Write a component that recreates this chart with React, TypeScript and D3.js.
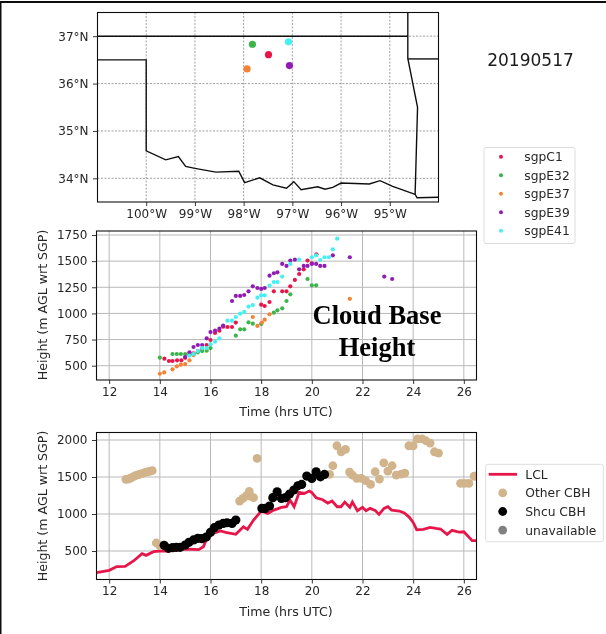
import React, { useRef, useEffect } from 'react';
import * as d3 from 'd3';

const WIDTH = 606;
const HEIGHT = 634;

const RED = '#e6194b';
const GREEN = '#3cb44b';
const ORANGE = '#f58231';
const PURPLE = '#911eb4';
const CYAN = '#46f0f0';
const TAN = '#d2b48c';

const siteNames = ['sgpC1', 'sgpE32', 'sgpE37', 'sgpE39', 'sgpE41'];
const siteColors = [RED, GREEN, ORANGE, PURPLE, CYAN];
const siteLon = [-97.49, -97.82, -97.93, -97.06, -97.08];
const siteLat = [36.61, 36.83, 36.31, 36.38, 36.88];

// state borders, lon/lat
const northLon = [-101, -94.63];
const northLat = [37, 37];
const eastLon = [-94.63, -94.63, -94.43, -94.48, -94.44, -94];
const eastLat = [37.5, 36.53, 35.5, 33.66, 33.59, 33.6];
const kansasLon = [-94.63, -94];
const kansasLat = [36.52, 36.52];
const southLon = [-101, -100, -100, -99.6, -99.34, -99.19, -99, -98.57, -98.1, -97.98, -97.67, -97.4, -97.12, -96.97, -96.82, -96.48, -96.33, -96.17, -96, -95.42, -95.2, -94.94, -94.48];
const southLat = [36.5, 36.5, 34.58, 34.39, 34.46, 34.25, 34.21, 34.13, 34.15, 33.91, 34.01, 33.86, 33.79, 33.93, 33.76, 33.82, 33.77, 33.81, 33.9, 33.88, 33.95, 33.83, 33.66];

const mapXTicks = [-100, -99, -98, -97, -96, -95];
const mapYTicks = [34, 35, 36, 37];

// cloud base height per site
const c1Time = [14.18, 14.36, 14.5, 14.68, 14.85, 15.0, 15.17, 15.33, 15.5, 15.67, 15.85, 16, 16.18, 16.35, 16.5, 16.67, 16.85, 17, 18, 18.14, 18.33, 18.5, 18.83, 19, 19.15, 19.33, 19.5, 19.68, 19.83, 20, 20.18];
const c1Height = [567, 545, 545, 551, 551, 575, 608, 618, 640, 660, 698, 746, 813, 835, 873, 870, 870, 912, 1084, 1071, 1109, 1211, 1211, 1211, 1259, 1320, 1377, 1422, 1505, 1480, 1565];
const e32Time = [14, 14.5, 14.67, 14.83, 15, 15.17, 15.33, 15.5, 15.67, 15.85, 16, 17, 17.17, 17.33, 17.5, 17.67, 18, 18.5, 18.64, 18.83, 19, 19.15, 19.83, 20, 20.17];
const e32Height = [577, 612, 612, 612, 612, 605, 608, 628, 640, 644, 669, 787, 848, 848, 915, 902, 900, 1007, 1030, 1049, 1119, 1183, 1329, 1269, 1269];
const e37Time = [14, 14.17, 14.5, 14.67, 14.83, 15, 15.17, 15.33, 17.67, 17.85, 18.03, 18.14, 18.33, 21.5];
const e37Height = [423, 436, 465, 494, 510, 516, 551, 602, 966, 880, 912, 940, 992, 1140];
const e39Time = [15, 15.17, 15.33, 15.5, 15.67, 15.85, 16, 16.18, 16.35, 16.5, 16.85, 17, 17.17, 17.33, 17.5, 17.67, 17.85, 18, 18.14, 18.33, 18.5, 18.64, 18.83, 19, 19.15, 19.33, 19.5, 19.68, 19.83, 20, 20.17, 20.33, 20.5, 20.83, 21.5, 22.86, 23.17];
const e39Height = [583, 628, 679, 698, 698, 762, 822, 835, 854, 883, 1119, 1167, 1167, 1176, 1211, 1259, 1243, 1234, 1243, 1361, 1384, 1393, 1473, 1454, 1505, 1514, 1422, 1454, 1454, 1473, 1473, 1454, 1454, 1556, 1537, 1352, 1329];
const e41Time = [15.17, 15.33, 15.5, 15.67, 15.85, 16, 16.18, 16.35, 16.67, 16.85, 17, 17.17, 17.33, 17.5, 17.67, 17.85, 18, 18.14, 18.33, 18.5, 18.64, 18.83, 19.15, 19.5, 20, 20.17, 20.33, 20.5, 20.67, 20.83, 21];
const e41Height = [596, 612, 640, 669, 669, 704, 730, 762, 931, 931, 966, 998, 1014, 1065, 1080, 1151, 1173, 1173, 1266, 1300, 1300, 1352, 1473, 1514, 1537, 1556, 1511, 1537, 1537, 1613, 1715];

const siteTimes = [c1Time, e32Time, e37Time, e39Time, e41Time];
const siteHeights = [c1Height, e32Height, e37Height, e39Height, e41Height];

// bottom panel
const lclTime = [11.5, 12, 12.3, 12.63, 12.96, 13.3, 13.46, 13.75, 14, 14.3, 15, 15.53, 15.72, 15.8, 16.1, 16.4, 16.6, 17, 17.3, 17.46, 17.7, 18, 18.26, 18.5, 18.8, 19, 19.14, 19.3, 19.5, 19.7, 19.9, 20, 20.17, 20.43, 20.63, 20.8, 21, 21.15, 21.3, 21.5, 21.6, 21.8, 22, 22.14, 22.3, 22.5, 22.65, 22.85, 23, 23.15, 23.45, 23.65, 23.85, 24, 24.14, 24.4, 24.67, 24.9, 25.08, 25.34, 25.54, 25.8, 26, 26.33, 26.5];
const lclHeight = [207, 239, 289, 293, 365, 464, 441, 491, 500, 500, 527, 518, 558, 626, 738, 770, 752, 725, 828, 793, 918, 1040, 1008, 1053, 1090, 1098, 1188, 1098, 1292, 1278, 1310, 1288, 1220, 1193, 1148, 1175, 1098, 1098, 1161, 1090, 1161, 1044, 1090, 1044, 1076, 1049, 995, 1076, 1098, 1053, 1040, 1013, 955, 887, 788, 793, 820, 806, 797, 725, 780, 755, 760, 640, 640];
const otherTime = [12.66, 12.75, 12.83, 12.93, 13.03, 13.13, 13.22, 13.32, 13.42, 13.5, 13.6, 13.7, 13.86, 14, 17.15, 17.28, 17.4, 17.53, 17.57, 17.7, 17.84, 20.7, 20.83, 20.99, 21.16, 21.33, 21.49, 21.6, 21.78, 21.95, 22.12, 22.32, 22.5, 22.67, 22.84, 23, 23.17, 23.33, 23.53, 23.67, 23.83, 24, 24.17, 24.35, 24.5, 24.67, 24.84, 25, 25.87, 26.03, 26.2, 26.4, 26.5];
const otherHeight = [1468, 1472, 1481, 1500, 1517, 1530, 1540, 1550, 1562, 1570, 1575, 1585, 608, 572, 1175, 1211, 1243, 1305, 1243, 1220, 1751, 1535, 1652, 1922, 1841, 1873, 1566, 1526, 1481, 1481, 1450, 1400, 1571, 1472, 1692, 1580, 1652, 1526, 1540, 1553, 1922, 1922, 2016, 2016, 1990, 1958, 1841, 1823, 1415, 1415, 1415, 1510, 1515];
const shcuTime = [14.17, 14.34, 14.5, 14.65, 14.8, 15, 15.15, 15.33, 15.5, 15.66, 15.83, 16, 16.15, 16.33, 16.5, 16.65, 16.85, 17, 18.03, 18.16, 18.33, 18.46, 18.63, 18.8, 18.96, 19.12, 19.29, 19.45, 19.6, 19.8, 20, 20.17, 20.34, 20.5];
const shcuHeight = [577, 536, 545, 550, 550, 581, 617, 649, 671, 666, 689, 752, 815, 851, 873, 882, 873, 918, 1076, 1076, 1108, 1220, 1301, 1211, 1220, 1270, 1324, 1382, 1400, 1512, 1481, 1571, 1503, 1535];

const timeTicks = [12, 14, 16, 18, 20, 22, 24, 26];
const midTicks = [500, 750, 1000, 1250, 1500, 1750];
const botTicks = [500, 1000, 1500, 2000];

const bottomLegend = ['LCL', 'Other CBH', 'Shcu CBH', 'unavailable'];

const tickFont = 'DejaVu Sans, sans-serif';

function drawAxes(g, x, y, box, xTicks, yTicks, xFmt, yFmt) {
  const xAxis = d3.axisBottom(x).tickValues(xTicks).tickSize(4).tickPadding(3).tickFormat(xFmt);
  const yAxis = d3.axisLeft(y).tickValues(yTicks).tickSize(4.5).tickPadding(4.5).tickFormat(yFmt);
  const gx = g.append('g').attr('transform', `translate(0,${box.bottom})`).call(xAxis);
  const gy = g.append('g').attr('transform', `translate(${box.left},0)`).call(yAxis);
  [gx, gy].forEach(a => {
    a.select('.domain').remove();
    a.selectAll('text').attr('font-family', tickFont).attr('font-size', 12).attr('fill', '#262626');
    a.selectAll('line').attr('stroke', '#222').attr('stroke-width', 0.9);
  });
}

function drawFrame(g, box) {
  g.append('rect')
    .attr('x', box.left).attr('y', box.top)
    .attr('width', box.right - box.left).attr('height', box.bottom - box.top)
    .attr('fill', 'none').attr('stroke', '#111').attr('stroke-width', 1.1);
}

function drawGrid(g, x, y, box, xTicks, yTicks, dash) {
  xTicks.forEach(t => {
    g.append('line').attr('x1', x(t)).attr('x2', x(t)).attr('y1', box.top).attr('y2', box.bottom)
      .attr('stroke', dash ? '#777' : '#b8b8b8').attr('stroke-width', dash ? 0.7 : 1).attr('stroke-dasharray', dash);
  });
  yTicks.forEach(t => {
    g.append('line').attr('x1', box.left).attr('x2', box.right).attr('y1', y(t)).attr('y2', y(t))
      .attr('stroke', dash ? '#777' : '#b8b8b8').attr('stroke-width', dash ? 0.7 : 1).attr('stroke-dasharray', dash);
  });
}

function drawLegendBox(g, x, y, w, h) {
  g.append('rect').attr('x', x).attr('y', y).attr('width', w).attr('height', h).attr('rx', 2)
    .attr('fill', '#fff').attr('stroke', '#ddd').attr('stroke-width', 1);
}

function legendText(g, x, y, s) {
  g.append('text').attr('x', x).attr('y', y).attr('dy', '0.36em')
    .attr('font-family', tickFont).attr('font-size', 12.3).attr('fill', '#262626').text(s);
}

function axisLabel(g, x, y, s, rotate) {
  g.append('text').attr('transform', `translate(${x},${y})${rotate ? ' rotate(-90)' : ''}`)
    .attr('text-anchor', 'middle').attr('font-family', tickFont).attr('font-size', 12.6)
    .attr('fill', '#262626').text(s);
}

const App = () => {
  const svgRef = useRef();

  useEffect(() => {
    const svg = d3.select(svgRef.current);
    svg.selectAll('*:not(defs):not(defs *)').remove();

    const root = svg.append('g').attr('filter', 'url(#soft)');
    root.append('rect').attr('width', WIDTH).attr('height', HEIGHT).attr('fill', '#fff');

    // page frame, top and left edges only
    root.append('path').attr('d', `M${WIDTH},2H0.5V${HEIGHT}`)
      .attr('fill', 'none').attr('stroke', '#111').attr('stroke-width', 2);

    // map
    const mapBox = { left: 97.5, right: 438.5, top: 12.5, bottom: 202 };
    const lon = d3.scaleLinear().domain([-101, -94]).range([mapBox.left, mapBox.right]);
    const lat = d3.scaleLinear().domain([33.5, 37.5]).range([mapBox.bottom, mapBox.top]);
    const mapG = root.append('g');
    drawGrid(mapG, lon, lat, mapBox, mapXTicks, mapYTicks, '2,1.5');
    const border = d3.line().x(d => lon(d[0])).y(d => lat(d[1]));
    [[northLon, northLat], [eastLon, eastLat], [kansasLon, kansasLat], [southLon, southLat]].forEach(([xs, ys]) => {
      mapG.append('path').attr('d', border(d3.zip(xs, ys))).attr('fill', 'none').attr('stroke', '#111').attr('stroke-width', 1.4);
    });
    mapG.selectAll('.site').data(siteNames).enter().append('circle')
      .attr('cx', (d, i) => lon(siteLon[i])).attr('cy', (d, i) => lat(siteLat[i])).attr('r', 3.6)
      .attr('fill', (d, i) => siteColors[i]);
    drawFrame(mapG, mapBox);
    drawAxes(mapG, lon, lat, mapBox, mapXTicks, mapYTicks, d => `${Math.abs(d)}°W`, d => `${d}°N`);

    root.append('text').attr('x', 530.5).attr('y', 66).attr('text-anchor', 'middle')
      .attr('font-family', tickFont).attr('font-size', 17).attr('fill', '#1a1a1a').text('20190517');

    // shared time scale
    const time = d3.scaleLinear().domain([11.5, 26.5]).range([96.5, 476.5]);

    // middle panel
    const midBox = { left: 96.5, right: 476.5, top: 231, bottom: 380 };
    const midY = d3.scaleLinear().domain([500, 1750]).range([365.7, 235]);
    const midG = root.append('g');
    drawGrid(midG, time, midY, midBox, timeTicks, midTicks);
    siteNames.forEach((name, i) => {
      midG.selectAll(`.s${i}`).data(siteTimes[i]).enter().append('circle')
        .attr('cx', d => time(d)).attr('cy', (d, j) => midY(siteHeights[i][j])).attr('r', 2.1)
        .attr('fill', siteColors[i]);
    });
    drawFrame(midG, midBox);
    drawAxes(midG, time, midY, midBox, timeTicks, midTicks, d => d, d => d);

    axisLabel(root, 286, 415.5, 'Time (hrs UTC)', false);
    axisLabel(root, 47, 305, 'Height (m AGL wrt SGP)', true);

    const note = root.append('text').attr('text-anchor', 'middle')
      .attr('font-family', 'Liberation Serif, serif').attr('font-weight', 'bold').attr('font-size', 26.5).attr('fill', '#000');
    note.append('tspan').attr('x', 377).attr('y', 324).text('Cloud Base');
    note.append('tspan').attr('x', 377).attr('y', 356).text('Height');

    // site legend
    drawLegendBox(root, 484, 147.5, 91, 96);
    siteNames.forEach((name, i) => {
      const ly = 156.7 + i * 18.5;
      root.append('circle').attr('cx', 501).attr('cy', ly).attr('r', 2).attr('fill', siteColors[i]);
      legendText(root, 524.3, ly, name);
    });

    // bottom panel
    const botBox = { left: 96.5, right: 476.5, top: 432.5, bottom: 579.5 };
    const botY = d3.scaleLinear().domain([500, 2000]).range([551, 440]);
    const botG = root.append('g');
    const clip = svg.append('defs').append('clipPath').attr('id', 'botClip');
    clip.append('rect').attr('x', botBox.left).attr('y', botBox.top)
      .attr('width', botBox.right - botBox.left).attr('height', botBox.bottom - botBox.top);
    drawGrid(botG, time, botY, botBox, timeTicks, botTicks);
    const plot = botG.append('g').attr('clip-path', 'url(#botClip)');
    const lclLine = d3.line().x(d => time(d[0])).y(d => botY(d[1]));
    plot.append('path').attr('d', lclLine(d3.zip(lclTime, lclHeight)))
      .attr('fill', 'none').attr('stroke', RED).attr('stroke-width', 2.8);
    plot.selectAll('.other').data(otherTime).enter().append('circle')
      .attr('cx', d => time(d)).attr('cy', (d, j) => botY(otherHeight[j])).attr('r', 4.4).attr('fill', TAN);
    plot.selectAll('.shcu').data(shcuTime).enter().append('circle')
      .attr('cx', d => time(d)).attr('cy', (d, j) => botY(shcuHeight[j])).attr('r', 4.6).attr('fill', '#000');
    drawFrame(botG, botBox);
    drawAxes(botG, time, botY, botBox, timeTicks, botTicks, d => d, d => d);

    axisLabel(root, 286, 615.5, 'Time (hrs UTC)', false);
    axisLabel(root, 47, 506, 'Height (m AGL wrt SGP)', true);

    // bottom legend
    drawLegendBox(root, 485.7, 464.3, 117.6, 77.4);
    bottomLegend.forEach((name, i) => {
      const ly = 474.3 + i * 18.6;
      if (i === 0) {
        root.append('line').attr('x1', 488.7).attr('x2', 517).attr('y1', ly).attr('y2', ly)
          .attr('stroke', RED).attr('stroke-width', 2.8);
      } else {
        root.append('circle').attr('cx', 502.7).attr('cy', ly).attr('r', 4.4)
          .attr('fill', [TAN, '#000', '#808080'][i - 1]);
      }
      legendText(root, 525.3, ly, name);
    });
  }, []);

  return (
    <svg ref={svgRef} width={WIDTH} height={HEIGHT} style={{ position: 'absolute', left: 0, top: 0 }}>
      <defs>
        <filter id="soft" x="0" y="0" width="100%" height="100%">
          <feGaussianBlur stdDeviation="0.45" />
        </filter>
      </defs>
    </svg>
  );
};

export default App;
